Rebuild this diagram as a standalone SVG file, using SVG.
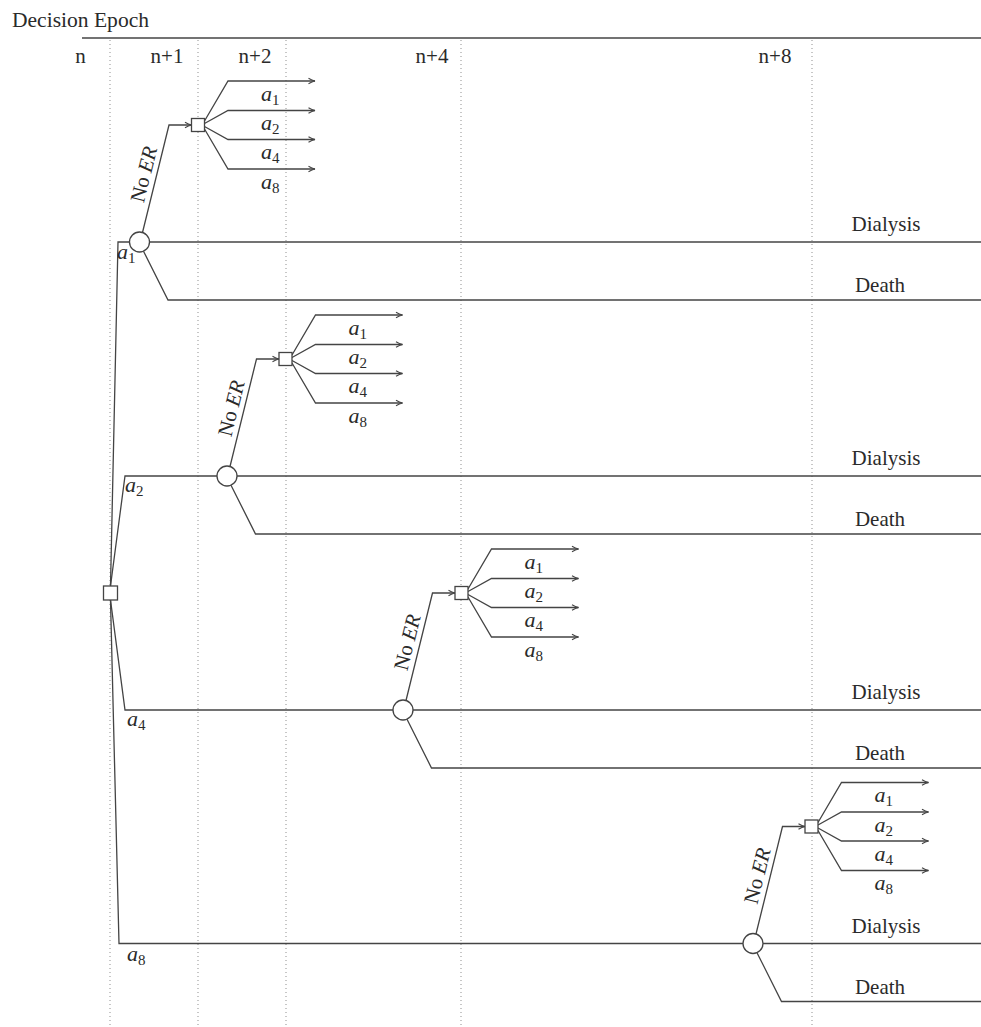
<svg xmlns="http://www.w3.org/2000/svg" width="981" height="1027" viewBox="0 0 981 1027">
<style>
  .bg{fill:#ffffff}
  .ln{fill:none;stroke:#444444;stroke-width:1.3;stroke-linejoin:miter}
  .dot{fill:none;stroke:#9a9a9a;stroke-width:1.1;stroke-dasharray:1 3}
  .hdr{fill:none;stroke:#444444;stroke-width:1.3}
  .nd{fill:#ffffff;stroke:#444444;stroke-width:1.3}
  .t{font-family:"Liberation Serif","DejaVu Serif",serif;font-size:21px;fill:#2a2a2a}
  .ta{font-family:"Liberation Serif","DejaVu Serif",serif;font-size:22px;font-style:italic;fill:#2a2a2a}
  .sub{font-size:15px;font-style:normal}
  .mid{text-anchor:middle}
</style>
<defs>
  <marker id="arr" viewBox="0 0 8 8" refX="7.5" refY="4" markerWidth="8" markerHeight="8" markerUnits="userSpaceOnUse" orient="auto">
    <path d="M1,1.2 Q4.5,3.4 7.5,4 Q4.5,4.6 1,6.8" fill="none" stroke="#444444" stroke-width="1.1"/>
  </marker>
</defs>
<rect class="bg" x="0" y="0" width="981" height="1027"/>

<g id="header">
  <text class="t" x="12" y="27" textLength="137" lengthAdjust="spacingAndGlyphs">Decision Epoch</text>
  <line class="hdr" x1="82" y1="38" x2="981" y2="38"/>
  <text class="t mid" x="80.5" y="63">n</text>
  <text class="t mid" x="167" y="63">n+1</text>
  <text class="t mid" x="255" y="63">n+2</text>
  <text class="t mid" x="432" y="63">n+4</text>
  <text class="t mid" x="775" y="63">n+8</text>
</g>

<g id="epoch-lines">
  <line class="dot" x1="110" y1="40" x2="110" y2="1027"/>
  <line class="dot" x1="198" y1="40" x2="198" y2="1027"/>
  <line class="dot" x1="286" y1="40" x2="286" y2="1027"/>
  <line class="dot" x1="461" y1="40" x2="461" y2="1027"/>
  <line class="dot" x1="812" y1="40" x2="812" y2="1027"/>
</g>

<g id="connectors">
  <!-- root branches -->
  <path class="ln" d="M110.5,586 L118,242 L129.5,242"/>
  <path class="ln" d="M110.5,586 L125,476 L217,476"/>
  <path class="ln" d="M110.5,600 L125,710 L393,710"/>
  <path class="ln" d="M110.5,600 L119,943.5 L743,943.5"/>

  <!-- subtree 1 -->
  <path class="ln" d="M149.5,242 H981"/>
  <path class="ln" d="M143.5,251.2 L168,300 H981"/>
  <path class="ln" d="M142.5,232.5 L169,125 H191.5" marker-end="url(#arr)"/>
  <path class="ln" d="M204.5,121 L228,81 H315" marker-end="url(#arr)"/>
  <path class="ln" d="M204.5,123.5 L228,110.5 H315" marker-end="url(#arr)"/>
  <path class="ln" d="M204.5,126.5 L228,139.5 H315" marker-end="url(#arr)"/>
  <path class="ln" d="M204.5,129 L228,169 H315" marker-end="url(#arr)"/>

  <!-- subtree 2 -->
  <path class="ln" d="M237,476 H981"/>
  <path class="ln" d="M231,485.2 L255.5,534 H981"/>
  <path class="ln" d="M230,466.5 L256.5,359 H279" marker-end="url(#arr)"/>
  <path class="ln" d="M292,355 L315.5,315 H402.5" marker-end="url(#arr)"/>
  <path class="ln" d="M292,357.5 L315.5,344.5 H402.5" marker-end="url(#arr)"/>
  <path class="ln" d="M292,360.5 L315.5,373.5 H402.5" marker-end="url(#arr)"/>
  <path class="ln" d="M292,363 L315.5,403 H402.5" marker-end="url(#arr)"/>

  <!-- subtree 3 -->
  <path class="ln" d="M413,710 H981"/>
  <path class="ln" d="M407,719.2 L431.5,768 H981"/>
  <path class="ln" d="M406,700.5 L432.5,593 H455" marker-end="url(#arr)"/>
  <path class="ln" d="M468,589 L491.5,549 H578.5" marker-end="url(#arr)"/>
  <path class="ln" d="M468,591.5 L491.5,578.5 H578.5" marker-end="url(#arr)"/>
  <path class="ln" d="M468,594.5 L491.5,607.5 H578.5" marker-end="url(#arr)"/>
  <path class="ln" d="M468,597 L491.5,637 H578.5" marker-end="url(#arr)"/>

  <!-- subtree 4 -->
  <path class="ln" d="M763,943.5 H981"/>
  <path class="ln" d="M757,952.7 L781.5,1001.5 H981"/>
  <path class="ln" d="M756,934 L782.5,826.5 H805" marker-end="url(#arr)"/>
  <path class="ln" d="M818,822.5 L841.5,782.5 H928.5" marker-end="url(#arr)"/>
  <path class="ln" d="M818,825 L841.5,812 H928.5" marker-end="url(#arr)"/>
  <path class="ln" d="M818,828 L841.5,841 H928.5" marker-end="url(#arr)"/>
  <path class="ln" d="M818,830.5 L841.5,870.5 H928.5" marker-end="url(#arr)"/>
</g>

<g id="root">
  <rect class="nd" x="103.5" y="586" width="14" height="14"/>
  <text class="ta" x="117" y="259">a<tspan class="sub" dy="4">1</tspan></text>
  <text class="ta" x="125" y="492">a<tspan class="sub" dy="4">2</tspan></text>
  <text class="ta" x="127" y="726">a<tspan class="sub" dy="4">4</tspan></text>
  <text class="ta" x="127" y="961">a<tspan class="sub" dy="4">8</tspan></text>
</g>

<g id="chance1">
  <circle class="nd" cx="139.5" cy="242" r="10"/>
  <text class="t mid" x="886" y="231">Dialysis</text>
  <text class="t mid" x="880" y="292">Death</text>
  <text class="t mid" transform="translate(150.5,176) rotate(-76)" font-size="22">No <tspan font-style="italic">ER</tspan></text>
</g>
<g id="decision1">
  <rect class="nd" x="191.5" y="118.5" width="13" height="13"/>
  <text class="ta" x="261" y="100.5">a<tspan class="sub" dy="4">1</tspan></text>
  <text class="ta" x="261" y="130">a<tspan class="sub" dy="4">2</tspan></text>
  <text class="ta" x="261" y="159">a<tspan class="sub" dy="4">4</tspan></text>
  <text class="ta" x="261" y="188.5">a<tspan class="sub" dy="4">8</tspan></text>
</g>

<g id="chance2">
  <circle class="nd" cx="227" cy="476" r="10"/>
  <text class="t mid" x="886" y="465">Dialysis</text>
  <text class="t mid" x="880" y="526">Death</text>
  <text class="t mid" transform="translate(238,410) rotate(-76)" font-size="22">No <tspan font-style="italic">ER</tspan></text>
</g>
<g id="decision2">
  <rect class="nd" x="279" y="352.5" width="13" height="13"/>
  <text class="ta" x="348.5" y="334.5">a<tspan class="sub" dy="4">1</tspan></text>
  <text class="ta" x="348.5" y="364">a<tspan class="sub" dy="4">2</tspan></text>
  <text class="ta" x="348.5" y="393">a<tspan class="sub" dy="4">4</tspan></text>
  <text class="ta" x="348.5" y="422.5">a<tspan class="sub" dy="4">8</tspan></text>
</g>

<g id="chance3">
  <circle class="nd" cx="403" cy="710" r="10"/>
  <text class="t mid" x="886" y="699">Dialysis</text>
  <text class="t mid" x="880" y="760">Death</text>
  <text class="t mid" transform="translate(414,644) rotate(-76)" font-size="22">No <tspan font-style="italic">ER</tspan></text>
</g>
<g id="decision3">
  <rect class="nd" x="455" y="586.5" width="13" height="13"/>
  <text class="ta" x="524.5" y="568.5">a<tspan class="sub" dy="4">1</tspan></text>
  <text class="ta" x="524.5" y="598">a<tspan class="sub" dy="4">2</tspan></text>
  <text class="ta" x="524.5" y="627">a<tspan class="sub" dy="4">4</tspan></text>
  <text class="ta" x="524.5" y="656.5">a<tspan class="sub" dy="4">8</tspan></text>
</g>

<g id="chance4">
  <circle class="nd" cx="753" cy="943.5" r="10"/>
  <text class="t mid" x="886" y="932.5">Dialysis</text>
  <text class="t mid" x="880" y="993.5">Death</text>
  <text class="t mid" transform="translate(764,877.5) rotate(-76)" font-size="22">No <tspan font-style="italic">ER</tspan></text>
</g>
<g id="decision4">
  <rect class="nd" x="805" y="820" width="13" height="13"/>
  <text class="ta" x="874.5" y="802">a<tspan class="sub" dy="4">1</tspan></text>
  <text class="ta" x="874.5" y="831.5">a<tspan class="sub" dy="4">2</tspan></text>
  <text class="ta" x="874.5" y="860.5">a<tspan class="sub" dy="4">4</tspan></text>
  <text class="ta" x="874.5" y="890">a<tspan class="sub" dy="4">8</tspan></text>
</g>
</svg>
